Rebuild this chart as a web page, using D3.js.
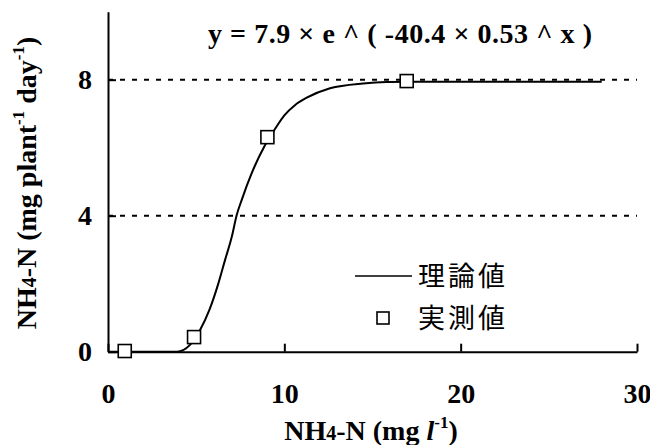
<!DOCTYPE html>
<html>
<head>
<meta charset="utf-8">
<script src="https://cdn.jsdelivr.net/npm/d3@7"></script>
<style>
  body { margin: 0; background: #fff; }
  svg { display: block; }
  .axis text { font-family: "Liberation Serif", serif; font-weight: bold; font-size: 28px; fill: #000; }
  .axis path, .axis line { stroke: #000; stroke-width: 2; }
</style>
</head>
<body>
<svg width="650" height="445"></svg>
<script>
// measured values (実測値)
var obsX = [0.95, 4.88, 9.04, 16.94];
var obsY = [0.02, 0.43, 6.31, 7.96];

// theoretical curve (理論値)
var fitX = [0, 3.91, 4.65, 5.22, 5.75, 6.26, 6.64, 7.02, 7.30, 7.58, 8.15, 8.91, 9.47, 10.0, 10.6, 11.27, 12.59, 14.46, 15.81, 18.5, 22, 28.0];
var fitY = [0, 0, 0.2, 0.64, 1.23, 2.01, 2.70, 3.38, 4.02, 4.46, 5.25, 6.08, 6.55, 6.95, 7.25, 7.47, 7.75, 7.89, 7.93, 7.94, 7.94, 7.94];

var xTicks = [0, 10, 20, 30];
var yTicks = [0, 4, 8];
var gridY = [4, 8];
var legendNames = ["理論値", "実測値"];
var equation = "y = 7.9 × e ^ ( -40.4 × 0.53 ^ x )";

var svg = d3.select("svg");

var x = d3.scaleLinear().domain([0, 30]).range([108, 637]);
var y = d3.scaleLinear().domain([0, 10]).range([351.7, 11.7]);

// dotted reference lines
svg.selectAll(".grid")
    .data(gridY)
  .enter().append("line")
    .attr("class", "grid")
    .attr("x1", x(0)).attr("x2", x(30))
    .attr("y1", function(d) { return y(d); })
    .attr("y2", function(d) { return y(d); })
    .attr("stroke", "#000")
    .attr("stroke-width", 2)
    .attr("stroke-dasharray", "5,7");

// axes
svg.append("g")
    .attr("class", "axis")
    .attr("transform", "translate(0," + y(0) + ")")
    .call(d3.axisBottom(x).tickValues(xTicks).tickSizeInner(-8).tickSizeOuter(0).tickPadding(31));

svg.append("g")
    .attr("class", "axis")
    .attr("transform", "translate(" + x(0) + ",0)")
    .call(d3.axisLeft(y).tickValues(yTicks).tickSizeInner(-8).tickSizeOuter(0).tickPadding(16));

// fitted curve
var fit = fitX.map(function(d, i) { return [d, fitY[i]]; });
var line = d3.line()
    .x(function(d) { return x(d[0]); })
    .y(function(d) { return y(d[1]); })
    .curve(d3.curveMonotoneX);

svg.append("path")
    .datum(fit)
    .attr("d", line)
    .attr("fill", "none")
    .attr("stroke", "#000")
    .attr("stroke-width", 2);

// observed squares
var s = 13;
svg.selectAll(".obs")
    .data(obsX)
  .enter().append("rect")
    .attr("class", "obs")
    .attr("x", function(d) { return x(d) - s / 2; })
    .attr("y", function(d, i) { return y(obsY[i]) - s / 2; })
    .attr("width", s).attr("height", s)
    .attr("fill", "#fff")
    .attr("stroke", "#000")
    .attr("stroke-width", 1.6);

// equation
svg.append("text")
    .attr("x", 208).attr("y", 43)
    .attr("textLength", 384)
    .attr("lengthAdjust", "spacing")
    .attr("font-family", "Liberation Serif, serif")
    .attr("font-weight", "bold")
    .attr("font-size", 28)
    .text(equation);

// legend
svg.append("line")
    .attr("x1", 355).attr("x2", 412)
    .attr("y1", 276).attr("y2", 276)
    .attr("stroke", "#000").attr("stroke-width", 1.6);
svg.append("rect")
    .attr("x", 383 - 6).attr("y", 318 - 6)
    .attr("width", 12).attr("height", 12)
    .attr("fill", "#fff").attr("stroke", "#000").attr("stroke-width", 1.6);

svg.selectAll(".leg")
    .data(legendNames)
  .enter().append("text")
    .attr("class", "leg")
    .attr("x", 418)
    .attr("y", function(d, i) { return 276 + i * 42; })
    .attr("dy", "0.38em")
    .attr("textLength", 87)
    .attr("lengthAdjust", "spacing")
    .attr("font-family", "Noto Sans CJK JP, sans-serif")
    .attr("font-size", 27)
    .text(function(d) { return d; });

// x axis title
var xt = svg.append("text")
    .attr("x", 371).attr("y", 440)
    .attr("text-anchor", "middle")
    .attr("font-family", "Liberation Serif, serif")
    .attr("font-weight", "bold")
    .attr("font-size", 28);
xt.append("tspan").text("NH");
xt.append("tspan").attr("font-size", 20).text("4");
xt.append("tspan").text("-N (mg ");
xt.append("tspan").attr("font-style", "italic").text("l");
xt.append("tspan").attr("font-size", 17).attr("dy", -12).text("-1");
xt.append("tspan").attr("dy", 12).text(")");

// y axis title
var yt = svg.append("text")
    .attr("transform", "translate(36,183) rotate(-90)")
    .attr("text-anchor", "middle")
    .attr("font-family", "Liberation Serif, serif")
    .attr("font-weight", "bold")
    .attr("font-size", 28);
yt.append("tspan").text("NH");
yt.append("tspan").attr("font-size", 20).text("4");
yt.append("tspan").text("-N (mg plant");
yt.append("tspan").attr("font-size", 17).attr("dy", -12).text("-1");
yt.append("tspan").attr("dy", 12).text(" day");
yt.append("tspan").attr("font-size", 17).attr("dy", -12).text("-1");
yt.append("tspan").attr("dy", 12).text(")");
</script>
</body>
</html>
